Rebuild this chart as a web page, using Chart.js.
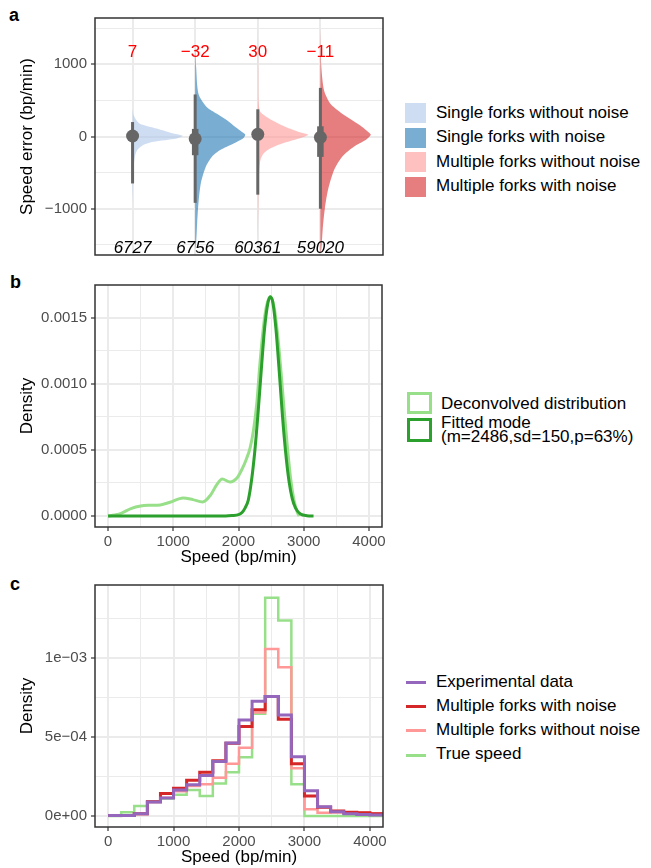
<!DOCTYPE html>
<html>
<head>
<meta charset="utf-8">
<script src="https://cdn.jsdelivr.net/npm/chart.js@4.4.1/dist/chart.umd.min.js"></script>
<style>
    body { margin: 0; background: #fff; }
    #page { position: relative; width: 651px; height: 868px; overflow: hidden;
            font-family: "Liberation Sans", Arial, Helvetica, sans-serif; color: #000; }
    canvas { position: absolute; left: 0; }
    .tag { position: absolute; font-weight: bold; font-size: 18px; line-height: 18px; }
    .lg { position: absolute; font-size: 17px; line-height: 17px; white-space: nowrap; }
    .key { position: absolute; box-sizing: border-box; }
</style>
</head>
<body>
<div id="page">
    <div class="tag" style="left:9px;top:6px">a</div>
    <div class="tag" style="left:10px;top:273px">b</div>
    <div class="tag" style="left:10px;top:575px">c</div>
    <canvas id="chartA" width="400" height="268" style="top:0px"></canvas>
    <canvas id="chartB" width="400" height="300" style="top:270px"></canvas>
    <canvas id="chartC" width="400" height="296" style="top:572px"></canvas>
</div>
<script>
// ---- panel a: speed error per simulation group ----
var groupNames = ['Single forks without noise', 'Single forks with noise', 'Multiple forks without noise', 'Multiple forks with noise'];
var groupMedians = [7, -32, 30, -11];
var groupCounts = [6727, 6756, 60361, 59020];
var intervalOuter = [[-650, 200], [-918, 582], [-805, 377], [-1000, 673]];
var intervalInner = [[-40, 45], [-259, 105], [-25, 85], [-282, 141]];

// half violins: speed error (y) and half width in group units
var violinY1 = [380, 300, 240, 178, 110, 41, 10, -27, -73, -119, -187, -279, -450, -700, -950];
var violinW1 = [0, 0.015, 0.05, 0.117, 0.385, 0.652, 0.8, 0.705, 0.33, 0.17, 0.075, 0.037, 0.015, 0.008, 0];
var violinY2 = [1250, 950, 589, 406, 315, 224, 132, 64, 25, -27, -96, -187, -279, -416, -644, -918, -1192, -1466, -1560];
var violinW2 = [0, 0.016, 0.053, 0.187, 0.348, 0.508, 0.641, 0.748, 0.8, 0.764, 0.614, 0.4, 0.268, 0.171, 0.091, 0.053, 0.032, 0.016, 0];
var violinY3 = [1550, 900, 500, 360, 315, 224, 132, 64, 25, -27, -96, -164, -233, -324, -507, -900, -1500];
var violinW3 = [0, 0.008, 0.012, 0.03, 0.069, 0.229, 0.444, 0.657, 0.806, 0.657, 0.389, 0.204, 0.096, 0.043, 0.021, 0.01, 0];
var violinY4 = [1500, 954, 635, 452, 315, 224, 132, 64, 25, -50, -142, -279, -461, -735, -1009, -1283, -1557, -1620];
var violinW4 = [0, 0.016, 0.059, 0.16, 0.348, 0.508, 0.668, 0.764, 0.806, 0.721, 0.534, 0.348, 0.22, 0.123, 0.069, 0.037, 0.016, 0];

var errorMajorTicks = [-1000, 0, 1000];
var errorMinorTicks = [-1500, -500, 500, 1500];

// ---- panel b: deconvolved speed distribution ----
var deconvSpeed = [0, 100, 200, 350, 500, 650, 800, 950, 1150, 1300, 1450, 1570, 1670, 1750, 1870, 1980, 2050, 2120, 2180, 2230, 2280, 2330, 2380, 2430, 2490, 2550, 2600, 2650, 2700, 2750, 2800, 2850, 2900, 2930];
var deconvDensity = [0, 0.000008, 0.00002, 0.000056, 0.000076, 0.000081, 0.000084, 0.000104, 0.000137, 0.000124, 0.000106, 0.000157, 0.00024, 0.00028, 0.000258, 0.00029, 0.00035, 0.00043, 0.00052, 0.00065, 0.00085, 0.00116, 0.00142, 0.00159, 0.00166, 0.00157, 0.00137, 0.0011, 0.0008, 0.00052, 0.00028, 0.00012, 0.00003, 0];
var fitSpeed = [0, 1800, 1900, 2000, 2050, 2100, 2150, 2200, 2250, 2300, 2350, 2400, 2450, 2486, 2525, 2575, 2625, 2675, 2725, 2775, 2825, 2875, 2950, 3050, 3150];
var fitDensity = [0, 0, 0.000003, 0.00001, 0.000024, 0.00006, 0.00012, 0.00027, 0.00049, 0.00078, 0.00111, 0.00142, 0.00161, 0.00166, 0.00162, 0.00141, 0.00109, 0.00075, 0.00047, 0.00026, 0.00013, 0.00006, 0.000015, 0.000002, 0];
var densityLabels = ['Deconvolved distribution', 'Fitted mode', '(m=2486,sd=150,p=63%)'];

// ---- panel c: speed histograms, bins of 200 bp/min ----
var binStarts = [0, 200, 400, 600, 800, 1000, 1200, 1400, 1600, 1800, 2000, 2200, 2400, 2600, 2800, 3000, 3200, 3400, 3600, 3800, 4000];
var binEnd = 4200;
var histNames = ['Experimental data', 'Multiple forks with noise', 'Multiple forks without noise', 'True speed'];
var histExperimental = [0.000003, 0.000003, 0.000015, 0.000088, 0.000113, 0.000164, 0.000197, 0.000256, 0.000344, 0.000462, 0.000606, 0.000726, 0.000755, 0.000638, 0.000375, 0.00016, 0.000059, 0.000027, 0.000015, 0.000009, 0.000007];
var histNoise = [0.000003, 0.000003, 0.000015, 0.00009, 0.000143, 0.000176, 0.000226, 0.000277, 0.00035, 0.00046, 0.000566, 0.000671, 0.000755, 0.000612, 0.00033, 0.000126, 0.000055, 0.000032, 0.000024, 0.00002, 0.000015];
var histNoNoise = [0.000002, 0.000003, 0.000012, 0.00009, 0.000115, 0.000157, 0.000189, 0.0002, 0.000241, 0.000331, 0.000432, 0.000654, 0.001055, 0.00094, 0.000302, 0.000042, 0.00002, 0.000022, 0.00002, 0.00002, 0.000017];
var histTrue = [0, 0.000023, 0.000063, 0.000092, 0.00011, 0.000134, 0.000164, 0.000126, 0.000206, 0.000277, 0.000371, 0.000646, 0.00138, 0.001235, 0.0002, 0, 0, 0, 0, 0, 0];

var speedMajorTicks = [0, 1000, 2000, 3000, 4000];
var speedMinorTicks = [500, 1500, 2500, 3500];

// ---- styling ----
var FONT = '"Liberation Sans", Arial, Helvetica, sans-serif';
var GRID = '#ebebeb';
var TICK_TEXT = '#4d4d4d';
var INTERVAL = '#666666';
var groupColors = ['rgba(174,199,232,0.6)', 'rgba(31,119,180,0.6)', 'rgba(255,152,150,0.6)', 'rgba(214,39,40,0.6)'];
var densityColors = ['#98df8a', '#2ca02c'];
var histColors = ['#9467bd', '#d62728', '#ff9896', '#98df8a'];
var histWidths = [3, 3, 2.5, 2.5];
var LABEL_TOP = 1105;
var LABEL_BOTTOM = -1607;

Chart.defaults.font.family = FONT;
Chart.defaults.animation = false;

function minus(v) {
    return v < 0 ? '\u2212' + Math.abs(v) : String(v);
}

function sci(v) {
    if (v === 0) {
        return '0e+00';
    }
    var e = Math.floor(Math.log10(v) + 1e-9);
    var m = Math.round(v / Math.pow(10, e));
    return m + 'e' + (e < 0 ? '\u2212' : '+') + (Math.abs(e) < 10 ? '0' : '') + Math.abs(e);
}

function makeAxis(o) {
    var all = o.majors.concat(o.minors || []).sort(function (a, b) { return a - b; });
    var isMajor = function (c) {
        return c.tick && o.majors.indexOf(c.tick.value) >= 0;
    };
    return {
        type: 'linear',
        min: o.min,
        max: o.max,
        afterBuildTicks: function (scale) {
            scale.ticks = all.map(function (v) { return { value: v }; });
        },
        afterFit: o.fit,
        ticks: {
            display: o.labels !== false,
            color: TICK_TEXT,
            font: { size: 15 },
            padding: o.padding || 0,
            autoSkip: false,
            maxRotation: 0,
            callback: function (v) {
                return o.majors.indexOf(v) >= 0 ? o.format(v) : '';
            }
        },
        grid: {
            color: GRID,
            lineWidth: function (c) { return isMajor(c) ? 2 : 1; },
            drawTicks: o.labels !== false,
            tickLength: 4,
            tickWidth: 1.2,
            tickColor: function (c) { return isMajor(c) ? '#333333' : 'rgba(0,0,0,0)'; }
        },
        border: { display: false },
        title: {
            display: !!o.title,
            text: o.title || '',
            color: '#000',
            font: { size: 17 },
            padding: o.titlePadding || 0
        }
    };
}

var panelBorder = {
    id: 'panelBorder',
    afterDatasetsDraw: function (chart) {
        var a = chart.chartArea;
        var ctx = chart.ctx;
        ctx.save();
        ctx.strokeStyle = '#333333';
        ctx.lineWidth = 1.5;
        ctx.strokeRect(a.left, a.top, a.right - a.left, a.bottom - a.top);
        ctx.restore();
    }
};

var baseOptions = function (padding, scales) {
    return {
        responsive: false,
        devicePixelRatio: 1,
        events: [],
        layout: { padding: padding },
        plugins: { legend: { display: false }, tooltip: { enabled: false } },
        scales: scales
    };
};

// ---- panel a ----
function drawErrorChart() {
    var violins = [[violinY1, violinW1], [violinY2, violinW2], [violinY3, violinW3], [violinY4, violinW4]];
    var datasets = [];

    groupMedians.forEach(function (m, i) {
        var pos = i + 1;
        datasets.push({ data: [{ x: pos, y: m }], pointRadius: 6.5, pointBackgroundColor: INTERVAL, pointBorderWidth: 0, showLine: false });
        datasets.push({ data: [{ x: pos, y: intervalInner[i][0] }, { x: pos, y: intervalInner[i][1] }], showLine: true, borderColor: INTERVAL, borderWidth: 6.5, borderCapStyle: 'butt', pointRadius: 0 });
        datasets.push({ data: [{ x: pos, y: intervalOuter[i][0] }, { x: pos, y: intervalOuter[i][1] }], showLine: true, borderColor: INTERVAL, borderWidth: 3, borderCapStyle: 'butt', pointRadius: 0 });
    });

    violins.forEach(function (v, i) {
        datasets.push({
            data: v[0].map(function (y, k) { return { x: i + 1 + v[1][k], y: y }; }),
            showLine: true,
            fill: 'shape',
            backgroundColor: groupColors[i],
            borderColor: 'rgba(0,0,0,0)',
            borderWidth: 0,
            pointRadius: 0,
            tension: 0.25
        });
    });

    var groupText = {
        id: 'groupText',
        afterDatasetsDraw: function (chart) {
            var ctx = chart.ctx;
            var xs = chart.scales.x;
            var ys = chart.scales.y;
            ctx.save();
            ctx.textAlign = 'center';
            ctx.textBaseline = 'alphabetic';
            groupMedians.forEach(function (m, i) {
                var px = xs.getPixelForValue(i + 1);
                ctx.fillStyle = '#ff0000';
                ctx.font = '17px ' + FONT;
                ctx.fillText(minus(m), px, ys.getPixelForValue(LABEL_TOP));
                ctx.fillStyle = '#000000';
                ctx.font = 'italic 17px ' + FONT;
                ctx.fillText(String(groupCounts[i]), px, ys.getPixelForValue(LABEL_BOTTOM));
            });
            ctx.restore();
        }
    };

    new Chart(document.getElementById('chartA'), {
        type: 'scatter',
        data: { datasets: datasets },
        options: baseOptions({ top: 18, right: 17, left: 0, bottom: 0 }, {
            x: makeAxis({
                min: 0.4, max: 5.0, majors: [1, 2, 3, 4], labels: false,
                format: String,
                fit: function (s) { s.height = 11; }
            }),
            y: makeAxis({
                min: -1640, max: 1640, majors: errorMajorTicks, minors: errorMinorTicks,
                format: minus, padding: 4,
                title: 'Speed error (bp/min)', titlePadding: { top: 17 },
                fit: function (s) { s.width = 95; }
            })
        }),
        plugins: [groupText, panelBorder]
    });

    var page = document.getElementById('page');
    groupNames.forEach(function (name, i) {
        var top = 103.3 + 24.4 * i;
        var key = document.createElement('div');
        key.className = 'key';
        key.style.cssText = 'left:405px;top:' + top + 'px;width:21px;height:20px;background:' + groupColors[i];
        page.appendChild(key);
        var t = document.createElement('div');
        t.className = 'lg';
        t.style.cssText = 'left:436px;top:' + (top + 10 - 9.5) + 'px';
        t.textContent = name;
        page.appendChild(t);
    });
}

// ---- panel b ----
function drawDensityChart() {
    new Chart(document.getElementById('chartB'), {
        type: 'scatter',
        data: {
            datasets: [
                {
                    data: fitSpeed.map(function (x, k) { return { x: x, y: fitDensity[k] }; }),
                    showLine: true, borderColor: densityColors[1], borderWidth: 3, pointRadius: 0,
                    cubicInterpolationMode: 'monotone'
                },
                {
                    data: deconvSpeed.map(function (x, k) { return { x: x, y: deconvDensity[k] }; }),
                    showLine: true, borderColor: densityColors[0], borderWidth: 3, pointRadius: 0,
                    cubicInterpolationMode: 'monotone'
                }
            ]
        },
        options: baseOptions({ top: 15, right: 18, left: 0, bottom: 0 }, {
            x: makeAxis({
                min: -200, max: 4200, majors: speedMajorTicks, minors: speedMinorTicks,
                format: String, padding: 2,
                title: 'Speed (bp/min)', titlePadding: { bottom: 2 },
                fit: function (s) { s.height = 43; }
            }),
            y: makeAxis({
                min: -0.0000833, max: 0.001748, majors: [0, 0.0005, 0.001, 0.0015], minors: [0.00025, 0.00075, 0.00125],
                format: function (v) { return v.toFixed(4); }, padding: 4,
                title: 'Density', titlePadding: { top: 17 },
                fit: function (s) { s.width = 95; }
            })
        }),
        plugins: [panelBorder]
    });

    var page = document.getElementById('page');
    var keys = [[392, 22, densityColors[0]], [418, 24, densityColors[1]]];
    keys.forEach(function (k) {
        var key = document.createElement('div');
        key.className = 'key';
        key.style.cssText = 'left:407px;top:' + k[0] + 'px;width:25px;height:' + k[1] + 'px;border:3px solid ' + k[2];
        page.appendChild(key);
    });
    var textTops = [394.5, 413.5, 427.5];
    densityLabels.forEach(function (label, i) {
        var t = document.createElement('div');
        t.className = 'lg';
        t.style.cssText = 'left:441px;top:' + textTops[i] + 'px';
        t.textContent = label;
        page.appendChild(t);
    });
}

// ---- panel c ----
function drawHistogramChart() {
    var series = [histExperimental, histNoise, histNoNoise, histTrue];
    var datasets = series.map(function (values, i) {
        var pts = binStarts.map(function (x, k) { return { x: x, y: values[k] }; });
        pts.push({ x: binEnd, y: values[values.length - 1] });
        return {
            data: pts,
            showLine: true,
            stepped: true,
            borderColor: histColors[i],
            borderWidth: histWidths[i],
            borderJoinStyle: 'miter',
            pointRadius: 0
        };
    });

    new Chart(document.getElementById('chartC'), {
        type: 'scatter',
        data: { datasets: datasets },
        options: baseOptions({ top: 13, right: 17, left: 0, bottom: 0 }, {
            x: makeAxis({
                min: -200, max: 4200, majors: speedMajorTicks, minors: speedMinorTicks,
                format: String, padding: 2,
                title: 'Speed (bp/min)', titlePadding: { bottom: 0 },
                fit: function (s) { s.height = 41; }
            }),
            y: makeAxis({
                min: -0.0000695, max: 0.00146, majors: [0, 0.0005, 0.001], minors: [0.00025, 0.00075, 0.00125],
                format: sci, padding: 4,
                title: 'Density', titlePadding: { top: 17 },
                fit: function (s) { s.width = 95; }
            })
        }),
        plugins: [panelBorder]
    });

    var page = document.getElementById('page');
    var lineTops = [682.7, 706.7, 730.7, 755];
    histNames.forEach(function (name, i) {
        var key = document.createElement('div');
        key.className = 'key';
        key.style.cssText = 'left:406px;top:' + (lineTops[i] - 1.5) + 'px;width:20px;height:3px;background:' + histColors[i];
        page.appendChild(key);
        var t = document.createElement('div');
        t.className = 'lg';
        t.style.cssText = 'left:436px;top:' + (lineTops[i] - 10) + 'px';
        t.textContent = name;
        page.appendChild(t);
    });
}

drawErrorChart();
drawDensityChart();
drawHistogramChart();
</script>
</body>
</html>
